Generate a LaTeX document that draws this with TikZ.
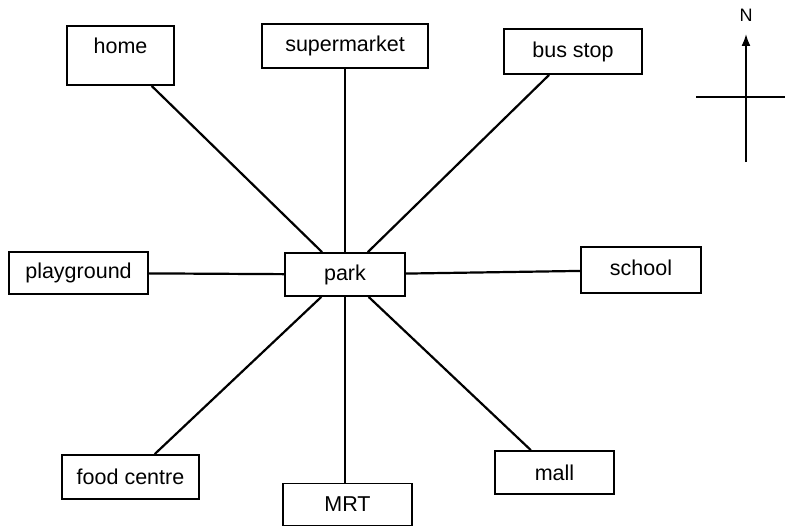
\documentclass[tikz,border=0pt]{standalone}
\usepackage{fontspec}
\setmainfont{Liberation Sans}
\usepackage{tikz}
\usetikzlibrary{positioning,arrows.meta}

\begin{document}
\begin{tikzpicture}[
    x=1pt, y=-1pt,
    place/.style={rectangle, draw=black, line width=1.8pt, fill=white,
        text centered, text=black, inner sep=2pt,
        font=\fontsize{21.5}{26}\selectfont},
    road/.style={draw=black, line width=2.2pt}
]
\useasboundingbox (0,0) rectangle (785,527);

\node (park) [place, minimum width=120pt, minimum height=43pt] at (345,274.5) {park};
\node (home) [place, minimum width=107pt, minimum height=59pt,
    text height=15pt, text depth=19pt] at (120.5,55.5) {home};
\node (supermarket) [place, minimum width=166pt, minimum height=44pt] at (345,46) {supermarket};
\node (busstop) [place, minimum width=138pt, minimum height=45pt] at (573,51.5) {bus stop};
\node (playground) [place, minimum width=139pt, minimum height=42pt] at (78.5,273) {playground};
\node (school) [place, minimum width=120pt, minimum height=46pt,
    text height=15pt, text depth=5pt] at (641,270) {school};
\node (foodcentre) [place, minimum width=137pt, minimum height=44pt] at (130.5,477) {food centre};
\node (MRT) [place, minimum width=129pt, minimum height=42pt] at (347.5,504.5) {MRT};
\node (mall) [place, minimum width=119pt, minimum height=43pt] at (554.5,472.5) {mall};

\draw [road] (home) -- (park);
\draw [road] (supermarket) -- (park);
\draw [road] (busstop) -- (park);
\draw [road] (playground) -- (park);
\draw [road] (park) -- (school);
\draw [road] (foodcentre) -- (park);
\draw [road] (park.south) -- (park.south |- MRT.north);
\draw [road] (mall) -- (park);

% compass
\coordinate (cS) at (746,162);
\coordinate (cN) at (746,34);
\coordinate (cW) at (696,97);
\coordinate (cE) at (785,97);
\node (N) [font=\fontsize{18}{21}\selectfont] at (746,15) {N};
\draw [line width=1.8pt, -{Latex[length=12pt,width=9pt]}] (cS) -- (cN);
\draw [line width=1.8pt] (cW) -- (cE);
\end{tikzpicture}
\end{document}
